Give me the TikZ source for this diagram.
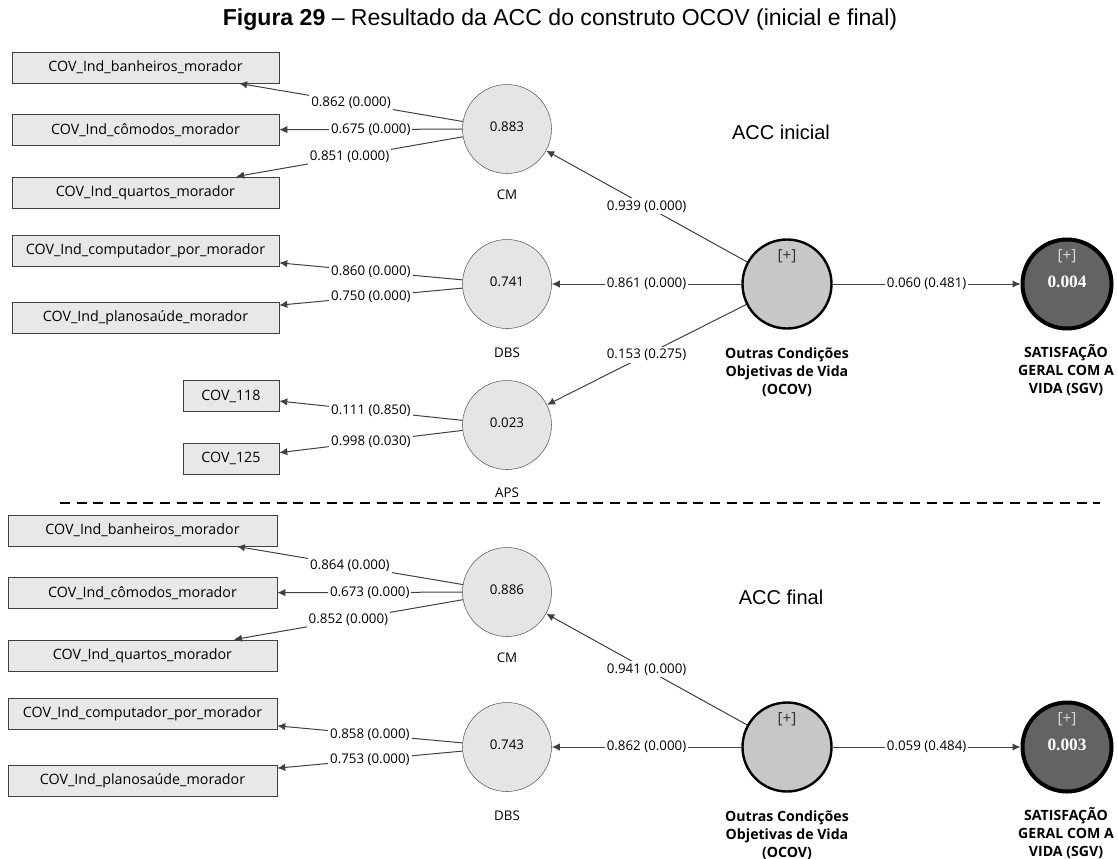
\documentclass[tikz,border=0pt]{standalone}
\usepackage{fontspec}
\setmainfont{Liberation Sans}
\newfontfamily\segoe{Open Sans}
\newfontfamily\valfont{Liberation Serif}
\usetikzlibrary{arrows.meta}

\newcommand{\indbox}[5]{\node[indbox, minimum width=#4*0.75pt] (#1) at (#2,#3) {#5};}
\newcommand{\load}[3]{\draw[conn, ->] (#1) -- node[lbl] {#3} (#2);}

\begin{document}
\begin{tikzpicture}[x=0.75pt, y=-0.75pt,
  >={Latex[length=6pt,width=5.5pt]},
  conn/.style={draw=black!75, line width=0.75pt},
  indbox/.style={draw=black!75, fill=black!9, minimum height=23.5pt, inner sep=0pt,
    font=\segoe\fontsize{10.7}{12}\selectfont},
  lv/.style={circle, draw=black!65, fill=black!10, minimum size=66.75pt, inner sep=0pt,
    font=\segoe\fontsize{10}{12}\selectfont},
  ocov/.style={lv, draw=black, line width=1.8pt, fill=black!22},
  sgv/.style={lv, draw=black, line width=3pt, fill=black!61, text=white,
    font=\valfont\bfseries\fontsize{13}{15}\selectfont},
  lbl/.style={fill=white, inner sep=1.5pt, font=\segoe\fontsize{10}{12}\selectfont},
  lvname/.style={font=\segoe\fontsize{10}{12}\selectfont},
  bigname/.style={font=\segoe\bfseries\fontsize{10.6}{13.5}\selectfont, align=center},
  plus/.style={font=\segoe\fontsize{11.5}{13}\selectfont, text=black!80},
  acc/.style={font=\fontsize{15}{18}\selectfont}]
\useasboundingbox (0,0) rectangle (1118,858);

\node[font=\fontsize{17.3}{20}\selectfont] (title) at (560,20)
  {\textbf{Figura 29} – Resultado da ACC do construto OCOV (inicial e final)};

% ACC inicial
% -----------

\node[acc] (accA) at (781,132) {ACC inicial};

\indbox{banA}{145.5}{67.5}{267}{COV\_Ind\_banheiros\_morador}
\indbox{comA}{145.5}{130}{267}{COV\_Ind\_cômodos\_morador}
\indbox{quaA}{145.5}{192.5}{267}{COV\_Ind\_quartos\_morador}
\indbox{compA}{145.5}{250.5}{267}{COV\_Ind\_computador\_por\_morador}
\indbox{plaA}{145.5}{317.5}{267}{COV\_Ind\_planosaúde\_morador}
\indbox{c118}{231}{396}{96}{COV\_118}
\indbox{c125}{231}{458.5}{96}{COV\_125}

\node[lv] (cmA) at (507,129) {\raisebox{3pt}{0.883}};
\node[lv] (dbsA) at (507,284) {\raisebox{3pt}{0.741}};
\node[lv] (apsA) at (507,425) {\raisebox{3pt}{0.023}};
\node[ocov] (ocovA) at (787,284) {};
\node[sgv] (sgvA) at (1067,284) {\raisebox{3pt}{0.004}};

\node[plus] (plusA) at (787,256) {[+]};
\node[plus, text=black!15] (plusSA) at (1067,256) {[+]};

\node[lvname] (cmnA) at (507,195) {CM};
\node[lvname] (dbsnA) at (507,353) {DBS};
\node[lvname] (apsnA) at (507,493) {APS};
\node[bigname] (ocovnA) at (787,372) {Outras Condições\\Objetivas de Vida\\(OCOV)};
\node[bigname] (sgvnA) at (1066,370) {SATISFAÇÃO\\GERAL COM A\\VIDA (SGV)};

\load{cmA}{banA}{0.862 (0.000)}
\load{cmA}{comA}{0.675 (0.000)}
\load{cmA}{quaA}{0.851 (0.000)}
\load{dbsA}{compA}{0.860 (0.000)}
\load{dbsA}{plaA}{0.750 (0.000)}
\load{apsA}{c118}{0.111 (0.850)}
\load{apsA}{c125}{0.998 (0.030)}
\load{ocovA}{cmA}{0.939 (0.000)}
\load{ocovA}{dbsA}{0.861 (0.000)}
\load{ocovA}{apsA}{0.153 (0.275)}
\load{ocovA}{sgvA}{0.060 (0.481)}

% separator
\coordinate (sepL) at (60,503);
\coordinate (sepR) at (1100,503);
\draw[black, line width=1pt, dash pattern=on 7.5pt off 5pt] (sepL) -- (sepR);

% ACC final
% ---------

\node[acc] (accB) at (781,597) {ACC final};

\indbox{banB}{142.5}{530.5}{269}{COV\_Ind\_banheiros\_morador}
\indbox{comB}{142.5}{593}{269}{COV\_Ind\_cômodos\_morador}
\indbox{quaB}{142.5}{655.5}{269}{COV\_Ind\_quartos\_morador}
\indbox{compB}{142.5}{713.5}{269}{COV\_Ind\_computador\_por\_morador}
\indbox{plaB}{142.5}{780.5}{269}{COV\_Ind\_planosaúde\_morador}

\node[lv] (cmB) at (507,592) {\raisebox{3pt}{0.886}};
\node[lv] (dbsB) at (507,747) {\raisebox{3pt}{0.743}};
\node[ocov] (ocovB) at (787,747) {};
\node[sgv] (sgvB) at (1067,747) {\raisebox{3pt}{0.003}};

\node[plus] (plusB) at (787,719) {[+]};
\node[plus, text=black!15] (plusSB) at (1067,719) {[+]};

\node[lvname] (cmnB) at (507,658) {CM};
\node[lvname] (dbsnB) at (507,816) {DBS};
\node[bigname] (ocovnB) at (787,835) {Outras Condições\\Objetivas de Vida\\(OCOV)};
\node[bigname] (sgvnB) at (1066,833) {SATISFAÇÃO\\GERAL COM A\\VIDA (SGV)};

\load{cmB}{banB}{0.864 (0.000)}
\load{cmB}{comB}{0.673 (0.000)}
\load{cmB}{quaB}{0.852 (0.000)}
\load{dbsB}{compB}{0.858 (0.000)}
\load{dbsB}{plaB}{0.753 (0.000)}
\load{ocovB}{cmB}{0.941 (0.000)}
\load{ocovB}{dbsB}{0.862 (0.000)}
\load{ocovB}{sgvB}{0.059 (0.484)}

\end{tikzpicture}
\end{document}
